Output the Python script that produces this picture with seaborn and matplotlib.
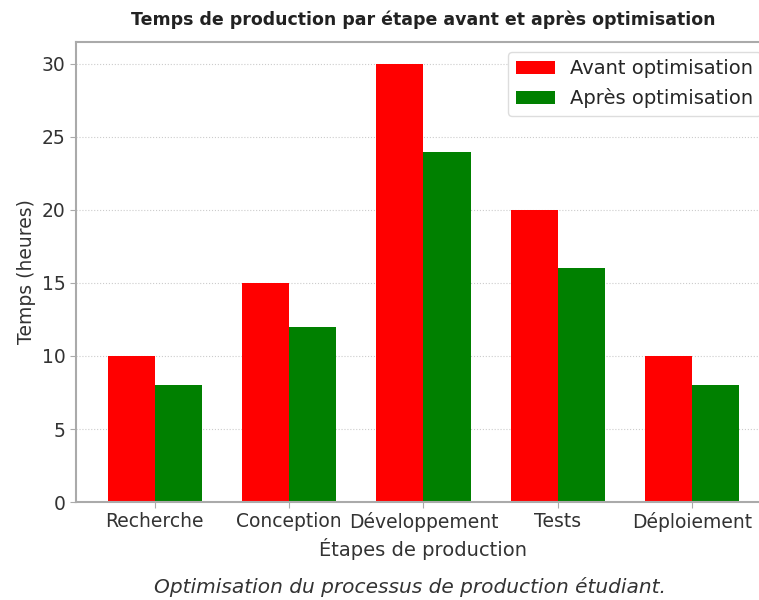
import matplotlib
matplotlib.use("Agg")
import matplotlib.pyplot as plt
import seaborn as sns
import pandas as pd

etapes = ["Recherche", "Conception", "Développement", "Tests", "Déploiement"]
avant = [10, 15, 30, 20, 10]
apres = [8, 12, 24, 16, 8]
series = ["Avant optimisation", "Après optimisation"]
colors = ["#ff0000", "#008000"]
yticks = [0, 5, 10, 15, 20, 25, 30]

df = pd.DataFrame({
    "Étape": etapes * 2,
    "Temps": avant + apres,
    "Série": [series[0]] * len(etapes) + [series[1]] * len(etapes),
})

sns.set_style("white")
plt.rcParams["font.family"] = ["DejaVu Sans"]

fig = plt.figure(figsize=(7.59, 6.0), dpi=100)
ax = fig.add_axes([0.1001, 0.1633, 0.9157, 0.7667])

sns.barplot(data=df, x="Étape", y="Temps", hue="Série", order=etapes,
            hue_order=series, palette=colors, width=0.7, gap=0,
            saturation=1, ax=ax, errorbar=None, linewidth=0)

ax.set_xlim(-0.585, 4.585)
ax.set_ylim(0, 31.5)
ax.set_yticks(yticks)
ax.grid(axis="y", linestyle=":", color="#cccccc", linewidth=0.8)
ax.set_axisbelow(True)
for s in ax.spines.values():
    s.set_color("#aaaaaa")
    s.set_linewidth(1.5)
ax.tick_params(axis="both", which="both", length=4, color="#aaaaaa",
               labelsize=13.5, labelcolor="#333333", bottom=True, left=True)

ax.set_title("Temps de production par étape avant et après optimisation",
             fontsize=12.5, fontweight="bold", color="#222222", pad=12)
ax.set_xlabel("Étapes de production", fontsize=14, color="#333333")
ax.set_ylabel("Temps (heures)", fontsize=13.5, color="#333333")

leg = ax.legend(loc="upper right", fontsize=14, frameon=True, title=None,
                fancybox=True, edgecolor="#dddddd", framealpha=1)

fig.text(410 / 759, 0.005, "Optimisation du processus de production étudiant.",
         ha="center", va="bottom", fontsize=14.5, style="italic", color="#333333")

fig.savefig("out.png", dpi=100)
